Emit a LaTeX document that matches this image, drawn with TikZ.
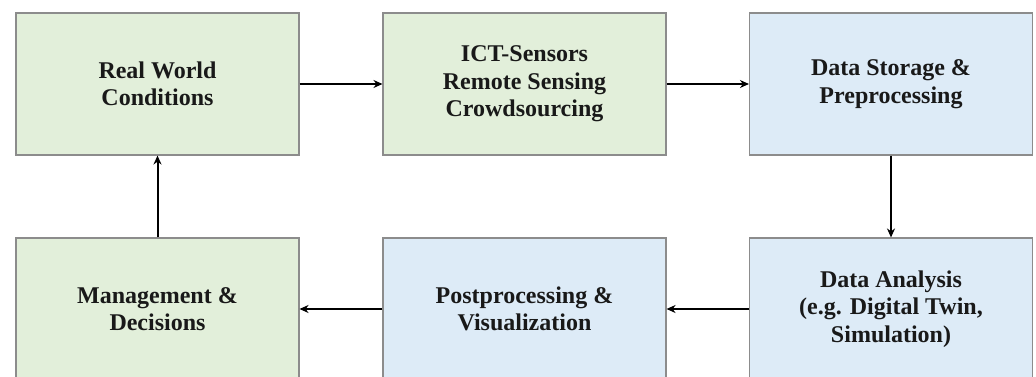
\documentclass[tikz,border=0pt]{standalone}
\usepackage{fontspec}
\setmainfont{Liberation Serif}
\usetikzlibrary{arrows.meta}
\definecolor{boxgreen}{HTML}{E2EFDA}
\definecolor{boxblue}{HTML}{DDEBF7}
\definecolor{boxline}{HTML}{8C8C8C}
\tikzset{
  stagebox/.style={draw=boxline, line width=1.1pt, minimum width=283pt, minimum height=142pt,
    align=center, font=\fontsize{24}{27.5}\selectfont\bfseries, text=black!90, inner sep=0pt},
  greenbox/.style={stagebox, fill=boxgreen},
  bluebox/.style={stagebox, fill=boxblue},
  flow/.style={line width=2pt, -{Stealth[length=9pt,width=8pt]}}
}
\begin{document}
\begin{tikzpicture}[x=1pt,y=1pt]
\useasboundingbox (0,0) rectangle (1036,376);
\clip (0,0) rectangle (1036,376);
\fill[white] (0,0) rectangle (1036,376);
\node[greenbox] (real) at (157.5,292) {Real World\\Conditions};
\node[greenbox] (ict) at (524.5,292) {ICT-Sensors\\Remote Sensing\\Crowdsourcing};
\node[bluebox] (store) at (891,292) {Data Storage \&\\Preprocessing};
\node[bluebox] (analysis) at (891,67) {Data Analysis\\(e.g. Digital Twin,\\Simulation)};
\node[bluebox] (post) at (524.5,67) {Postprocessing \&\\Visualization};
\node[greenbox] (mgmt) at (157.5,67) {Management \&\\Decisions};
\draw[flow] (real) -- (ict);
\draw[flow] (ict) -- (store);
\draw[flow] (store) -- (analysis);
\draw[flow] (analysis) -- (post);
\draw[flow] (post) -- (mgmt);
\draw[flow] (mgmt) -- (real);
\end{tikzpicture}
\end{document}
